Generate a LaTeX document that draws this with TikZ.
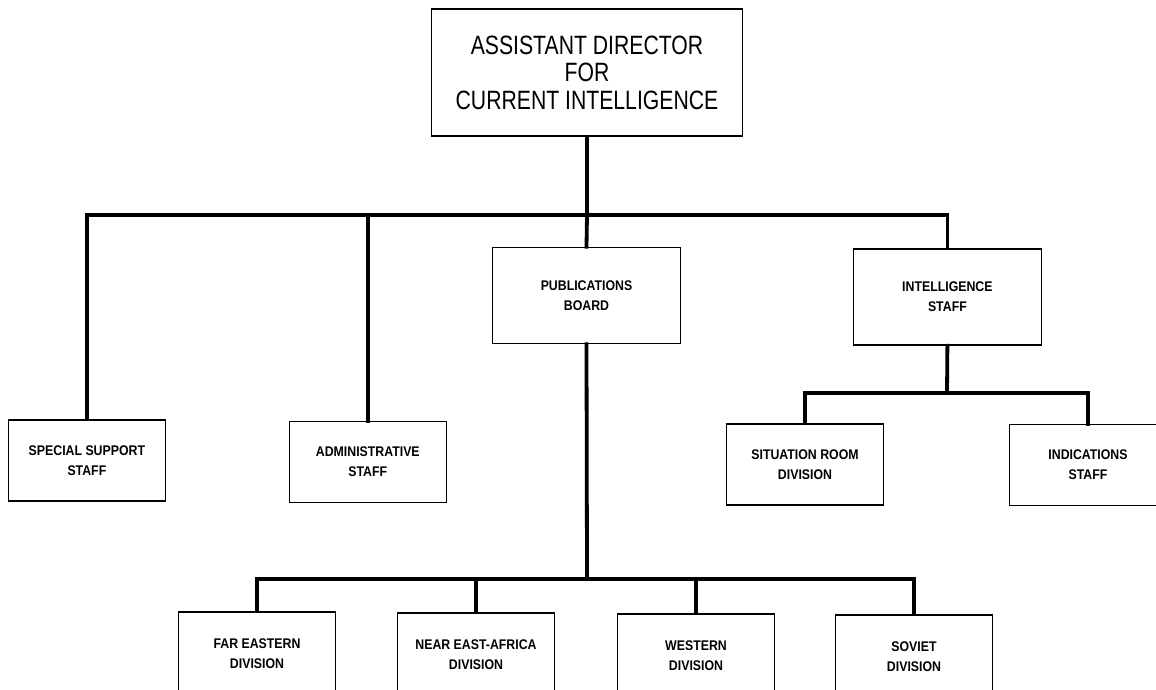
\documentclass[tikz,border=0pt]{standalone}
\usepackage{fontspec}
\setmainfont{Liberation Sans}
\newfontfamily\bigfont[FakeStretch=0.8]{Liberation Sans}
\newfontfamily\smallfont[FakeStretch=0.88]{Liberation Sans}
\begin{document}
\begin{tikzpicture}[x=1pt,y=-1pt,
  box/.style={draw=black, line width=1.6pt, fill=white, align=center, inner sep=0pt},
  bigbox/.style={box, minimum width=311pt, minimum height=127pt,
     font=\bigfont\fontsize{26.5pt}{27.5pt}\selectfont},
  unit/.style={box, minimum width=157pt, minimum height=81pt,
     font=\smallfont\bfseries\fontsize{14pt}{20pt}\selectfont},
  midunit/.style={unit, minimum width=188pt, minimum height=96pt},
  lowunit/.style={unit, minimum height=84pt},
  conn/.style={draw=black, line width=3.8pt, line cap=rect, line join=miter}]
\useasboundingbox (0,0) rectangle (1156,690);
\fill[white] (0,0) rectangle (1156,690);
\clip (0,0) rectangle (1156,690);

% bus coordinates
\coordinate (busA) at (587,215);
\coordinate (busB) at (587,579);
\coordinate (busC) at (947,393);

% connectors (drawn first, boxes on top)
\node[bigbox] (top) at (587,72.7) {ASSISTANT DIRECTOR\\FOR\\CURRENT INTELLIGENCE};
\node[midunit] (pub) at (586.5,295.5) {PUBLICATIONS\\BOARD};
\node[midunit] (intel) at (947.4,297) {INTELLIGENCE\\STAFF};
\node[unit] (special) at (86.9,460.7) {SPECIAL SUPPORT\\STAFF};
\node[unit] (admin) at (367.8,462) {ADMINISTRATIVE\\STAFF};
\node[unit] (situation) at (805,464.3) {SITUATION ROOM\\DIVISION};
\node[unit] (indications) at (1088,465) {INDICATIONS\\STAFF};
\node[lowunit] (fareast) at (257,654) {FAR EASTERN\\DIVISION};
\node[lowunit] (neareast) at (476,655) {NEAR EAST-AFRICA\\DIVISION};
\node[lowunit] (western) at (696,656) {WESTERN\\DIVISION};
\node[lowunit] (soviet) at (914,657) {SOVIET\\DIVISION};

\draw[conn] (top.south) -- (busA);
\draw[conn] (special.north) |- (busA) -| (intel.north);
\draw[conn] (admin.north) -- (admin.north |- busA);
\draw[conn] (busA) -- (pub.north);

\draw[conn] (pub.south) -- (busB);
\draw[conn] (fareast.north) |- (busB) -| (soviet.north);
\draw[conn] (neareast.north) -- (neareast.north |- busB);
\draw[conn] (western.north) -- (western.north |- busB);

\draw[conn] (intel.south) -- (busC);
\draw[conn] (situation.north) |- (busC) -| (indications.north);
\end{tikzpicture}
\end{document}
